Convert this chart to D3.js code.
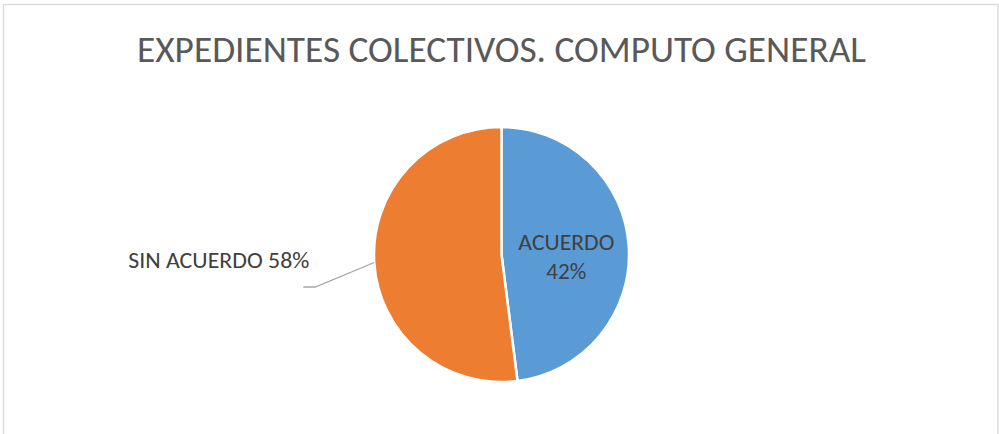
<!DOCTYPE html>
<html>
<head>
<meta charset="utf-8">
<script src="https://cdn.jsdelivr.net/npm/d3@7"></script>
<style>
  html, body { margin: 0; padding: 0; background: #fff; }
  svg { display: block; }
</style>
</head>
<body>
<svg id="chart" width="999" height="434"></svg>
<script>
// ---- data ----
const title = "EXPEDIENTES COLECTIVOS. COMPUTO GENERAL";
const categories = ["ACUERDO", "SIN ACUERDO"];
const values = [48, 52];          // slice sizes as drawn
const pctLabels = ["42%", "58%"]; // percentage texts shown on the chart
const colors = ["#5b9bd5", "#ed7d31"];

// ---- layout ----
const W = 999, H = 434;
const cx = 501.5, cy = 254.5, R = 127.5;
const FONT = "Carlito, Calibri, 'Liberation Sans', Arial, sans-serif";

const svg = d3.select("#chart");

// chart border
svg.append("rect")
  .attr("x", 3.5).attr("y", 4.5)
  .attr("width", 994.5).attr("height", 440)
  .attr("fill", "#fff")
  .attr("stroke", "#d9d9d9").attr("stroke-width", 1.3);

// title
svg.append("text")
  .attr("x", 501.5).attr("y", 62)
  .attr("text-anchor", "middle")
  .attr("font-family", FONT)
  .attr("font-size", 36)
  .attr("fill", "#595959")
  .attr("textLength", 729)
  .attr("lengthAdjust", "spacingAndGlyphs")
  .text(title);

const pie = d3.pie().sort(null).value(d => d.value)
  .startAngle(0).endAngle(2 * Math.PI);
const data = categories.map((c, i) => ({ cat: c, value: values[i], pct: pctLabels[i], color: colors[i] }));
const arcs = pie(data);

const arc = d3.arc().innerRadius(0).outerRadius(R);
const g = svg.append("g").attr("transform", `translate(${cx},${cy})`);

g.selectAll("path.slice")
  .data(arcs)
  .join("path")
  .attr("class", "slice")
  .attr("d", arc)
  .attr("fill", d => d.data.color)
  .attr("stroke", "#fff")
  .attr("stroke-width", 2.5)
  .attr("stroke-linejoin", "round");

// inside label (first slice)
const inArc = d3.arc().innerRadius(0).outerRadius(130);
const a0 = arcs[0];
const c0 = inArc.centroid(a0);
const lbl = g.append("text")
  .attr("font-family", FONT)
  .attr("font-size", 22)
  .attr("fill", "#404040")
  .attr("text-anchor", "middle");
lbl.append("tspan").attr("x", c0[0]).attr("y", c0[1])
  .attr("textLength", 96).attr("lengthAdjust", "spacingAndGlyphs")
  .text(a0.data.cat);
lbl.append("tspan").attr("x", c0[0]).attr("y", c0[1] + 29)
  .attr("textLength", 40).attr("lengthAdjust", "spacingAndGlyphs")
  .text(a0.data.pct);

// outside label with leader (second slice)
const a1 = arcs[1];
const edge = d3.arc().innerRadius(R).outerRadius(R).centroid(a1);
const elbow = [edge[0] - 59, edge[1] + 24.5];
const end = [elbow[0] - 12, elbow[1]];
g.append("polyline")
  .attr("points", [edge, elbow, end].map(p => p.join(",")).join(" "))
  .attr("fill", "none")
  .attr("stroke", "#a6a6a6")
  .attr("stroke-width", 1.3);
g.append("text")
  .attr("x", end[0] + 6).attr("y", end[1] - 19)
  .attr("text-anchor", "end")
  .attr("font-family", FONT)
  .attr("font-size", 22)
  .attr("fill", "#404040")
  .attr("textLength", 181).attr("lengthAdjust", "spacingAndGlyphs")
  .text(a1.data.cat + " " + a1.data.pct);
</script>
</body>
</html>
